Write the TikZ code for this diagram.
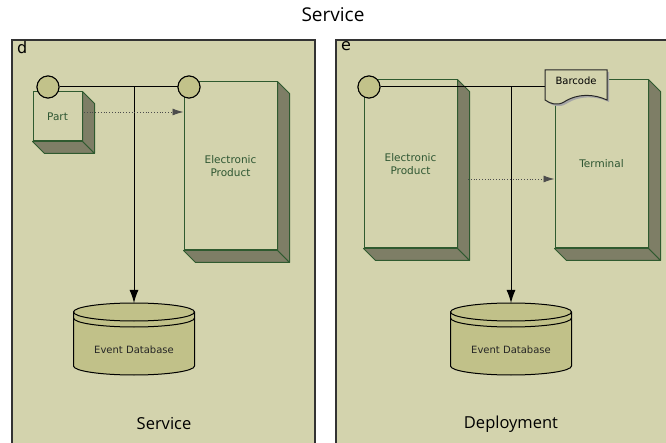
\documentclass[tikz,border=0pt]{standalone}
\usepackage{fontspec}
\setmainfont{DejaVu Sans}
\newfontfamily\titlefont{Open Sans}
\usetikzlibrary{arrows.meta,calc}

\definecolor{panelbg}{HTML}{D3D3AD}
\definecolor{sideface}{HTML}{7E7E66}
\definecolor{boxline}{HTML}{2F5A2F}
\definecolor{portfill}{HTML}{C2C28A}
\definecolor{dbfill}{HTML}{C1C189}
\definecolor{labelgreen}{HTML}{2E5632}

\tikzset{
  panel/.style={draw=black!80, line width=1.2pt, fill=panelbg},
  block/.style={rectangle, draw=boxline, line width=1pt, fill=panelbg,
    text=labelgreen, font=\fontsize{10.5}{13}\selectfont, align=center, inner sep=0pt},
  facefill/.style={fill=sideface, draw=boxline, line width=1pt, line join=round},
  port/.style={circle, draw=black, line width=1pt, fill=portfill,
    minimum size=22pt, inner sep=0pt},
  link/.style={draw=black, line width=1pt},
  flow/.style={link, -{Latex[length=13pt,width=9pt]}},
  dotflow/.style={draw=black!70, line width=0.8pt, dotted,
    -{Latex[length=11pt,width=7pt]}},
  dblabel/.style={text=black!85, font=\fontsize{10}{12}\selectfont},
  caption/.style={font=\titlefont\fontsize{16.5}{20}\selectfont},
  corner/.style={font=\fontsize{16}{18}\selectfont, anchor=north west, inner sep=0pt}
}

% depth faces (right and bottom) of an extruded block
\newcommand\blockdepth[1]{%
  \path[facefill] (#1.north east) -- ++(12,12) -- ($(#1.south east)+(12,12)$)
      -- (#1.south east) -- cycle;
  \path[facefill] (#1.south west) -- (#1.south east) -- ++(12,12)
      -- ($(#1.south west)+(12,12)$) -- cycle;
}

% database drum: #1 = centre x, #2 = y of the top rim centre
\newcommand\dbdrum[2]{%
  \path[fill=dbfill, draw=black, line width=1pt]
    ({#1-60.5},{#2}) -- ({#1-60.5},{#2+54})
    arc[start angle=180, end angle=360, x radius=60.5pt, y radius=9pt]
    -- ({#1+60.5},{#2})
    arc[start angle=0, end angle=180, x radius=60.5pt, y radius=9pt] -- cycle;
  \draw[line width=1pt] ({#1-60.5},{#2})
    arc[start angle=180, end angle=360, x radius=60.5pt, y radius=9pt];
  \draw[line width=1pt] ({#1-60.5},{#2+6})
    arc[start angle=180, end angle=360, x radius=60.5pt, y radius=9pt];
}

\begin{document}
\begin{tikzpicture}[x=1pt, y=-1pt]
  \useasboundingbox (0,0) rectangle (666,443);
  \clip (0,0) rectangle (666,443);
  \fill[white] (0,0) rectangle (666,443);

  \node[caption, font=\titlefont\fontsize{19}{22}\selectfont] (title) at (333,15) {Service};

  % ---------- panel d ----------
  \path[panel] (12,40) rectangle (315,460);
  \node[corner] (labd) at (17,41) {d};

  \node[block, minimum width=49, minimum height=49] (part) at (57.5,116.5) {Part};
  \blockdepth{part}
  \node[block, minimum width=93, minimum height=168] (ep1) at (230.5,166) {Electronic\\Product};
  \blockdepth{ep1}

  \dbdrum{134}{312}
  \node[dblabel] (db1) at (134,350) {Event Database};
  \coordinate (db1top) at (134,303);

  \node[port] (p1) at (48,87) {};
  \node[port] (p2) at (189,87) {};
  \coordinate (j1) at (134,87);
  \draw[link] (p1) -- (p2);
  \draw[flow] (j1) -- (db1top);

  \coordinate (d1s) at (84,112);
  \draw[dotflow] (d1s) -- (ep1.west |- d1s);
  \node[port] at (p1) {};
  \node[port] at (p2) {};

  \node[caption] (capd) at (164,424) {Service};

  % ---------- panel e ----------
  \path[panel] (336,40) rectangle (680,460);
  \node[corner] (labe) at (341,41) {e};

  \node[block, minimum width=93, minimum height=168] (ep2) at (410.5,164) {Electronic\\Product};
  \blockdepth{ep2}
  \node[block, minimum width=93, minimum height=168] (term) at (601.5,164) {Terminal};
  \blockdepth{term}

  \dbdrum{511}{312}
  \node[dblabel] (db2) at (511,350) {Event Database};
  \coordinate (db2top) at (511,303);

  % connectors of panel e, drawn under the barcode document
  \node[port] (p3) at (369,87) {};
  \coordinate (j2) at (511,87);
  \coordinate (barin) at (546,87);
  \draw[link] (p3) -- (barin);
  \draw[flow] (j2) -- (db2top);
  \node[port] at (p3) {};

  % barcode document
  \path[fill=black!35] (547,72) -- (609,72) -- (609,102)
    .. controls (596,96) and (580,95) .. (566,104)
    .. controls (559,108) and (553,106) .. (547,102) -- cycle;
  \path[fill=panelbg, draw=black!85, line width=1pt] (545,70) -- (607,70) -- (607,100)
    .. controls (594,94) and (578,93) .. (564,102)
    .. controls (557,106) and (551,104) .. (545,100) -- cycle;
  \node[dblabel, text=black] (bar) at (576,81) {Barcode};

  \coordinate (d2s) at (468,179);
  \draw[dotflow] (d2s) -- (term.west |- d2s);

  \node[caption] (cape) at (511,424) {Deployment};
\end{tikzpicture}
\end{document}
